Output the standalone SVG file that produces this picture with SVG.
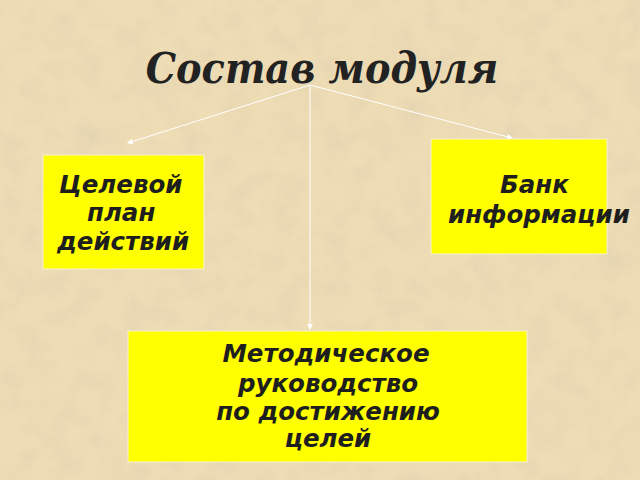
<svg xmlns="http://www.w3.org/2000/svg" width="640" height="480" viewBox="0 0 640 480">
<defs>
<filter id="paper" x="0" y="0" width="100%" height="100%">
<feTurbulence type="fractalNoise" baseFrequency="0.04" numOctaves="4" seed="3" result="n"/>
<feColorMatrix in="n" type="matrix" values="0 0 0 0 0.76  0 0 0 0 0.64  0 0 0 0 0.44  0 0 0 -2 1.2"/>
</filter>
<marker id="arr" markerWidth="6" markerHeight="6" refX="5" refY="3" orient="auto" markerUnits="userSpaceOnUse">
<path d="M0,0 L6,3 L0,6 z" fill="#ffffff"/>
</marker>
<style>
.box{fill:#ffff00;stroke:#f4f0d8;stroke-width:1}
.t{font-family:"DejaVu Sans",sans-serif;font-weight:bold;font-style:italic;font-size:24.5px;fill:#1e1e1e}
.c{stroke:#ffffff;stroke-width:1;fill:none;marker-end:url(#arr)}
</style>
</defs>
<rect width="640" height="480" fill="#eddcb4"/>
<rect width="640" height="480" filter="url(#paper)" opacity="0.6"/>
<g id="title">
<text x="322" y="83" text-anchor="middle" font-family="DejaVu Serif Condensed, DejaVu Serif, serif" font-stretch="condensed" font-weight="bold" font-style="italic" font-size="42.5" fill="#222222">Состав модуля</text>
</g>
<g id="connectors">
<line class="c" x1="310" y1="85" x2="128" y2="143"/>
<line class="c" x1="310" y1="85" x2="512" y2="138"/>
<line class="c" x1="310" y1="85" x2="310" y2="329"/>
</g>
<g id="node-plan">
<rect class="box" x="43" y="155" width="161" height="114"/>
<text class="t" x="59" y="193">Целевой</text>
<text class="t" x="87" y="221">план</text>
<text class="t" x="57" y="250">действий</text>
</g>
<g id="node-bank">
<rect class="box" x="431" y="139" width="176" height="115"/>
<text class="t" x="500" y="193">Банк</text>
<text class="t" x="448" y="223">информации</text>
</g>
<g id="node-method">
<rect class="box" x="128" y="331" width="399" height="131"/>
<text class="t" x="326" y="362" text-anchor="middle">Методическое</text>
<text class="t" x="328" y="392" text-anchor="middle">руководство</text>
<text class="t" x="328" y="420" text-anchor="middle">по достижению</text>
<text class="t" x="328" y="447" text-anchor="middle">целей</text>
</g>
</svg>
